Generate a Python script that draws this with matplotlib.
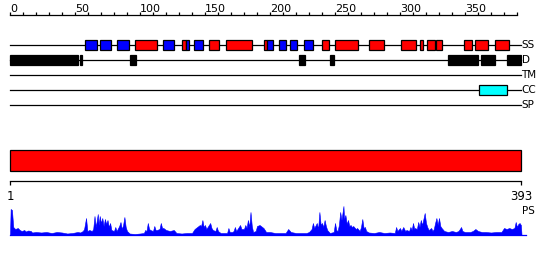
import numpy as np
import matplotlib.pyplot as plt

seq_len = 393

# secondary structure: H = helix (red), E = strand (blue)
ss_start = [58, 69, 82, 96, 118, 132, 135, 141.5, 153, 166, 195, 198, 207, 215, 226,
            240, 250, 276, 301, 315, 321, 328, 349, 358, 373]
ss_end = [67, 78, 91.5, 113, 126, 135, 138, 148.5, 161, 186, 198, 202, 212, 221, 233,
          245, 268, 288, 312, 318, 327, 332, 355, 368, 384]
ss_type = ['E', 'E', 'E', 'H', 'E', 'H', 'E', 'E', 'H', 'H', 'H', 'E', 'E', 'E', 'E',
           'H', 'H', 'H', 'H', 'H', 'H', 'H', 'H', 'H', 'H']

# disorder
dis_start = [0, 53.5, 92, 222, 246, 337, 362, 382]
dis_end = [52, 55.5, 97, 227, 249, 360, 373, 393]

# coiled coil
cc_start = [361]
cc_end = [382]

tracks = ['SS', 'D', 'TM', 'CC', 'SP']

# profile along the sequence (PS)
ps_pos = [0, 0.5, 1.5, 2.5, 4, 6, 7.5, 9, 11, 12, 14, 16, 17, 20, 24, 28, 32, 36, 40, 44, 48, 52, 54,
          56, 57, 58.5, 59.5, 61, 63, 64, 65, 66, 67.5, 68.2, 69, 70, 71, 72, 73, 74, 75, 76, 77, 78,
          80, 81, 82, 84, 85, 86, 87, 88, 89, 90, 92, 96, 100, 103, 104, 105, 106, 107, 108, 110,
          111, 112, 113, 115, 116, 117, 118, 120, 123, 126, 128, 132, 136, 140, 142, 144, 146, 147,
          148, 149, 150, 151, 153, 154, 155, 156, 158, 159, 160, 162, 165, 167, 168, 169, 171, 172,
          173, 174, 176, 177, 178, 180, 181, 182, 183, 184, 185, 186, 187, 189, 190, 192, 194, 195,
          197, 200, 204, 208, 212, 214, 216, 220, 224, 228, 230, 232, 233, 234, 236, 237, 238, 239,
          240, 241, 242, 243, 244, 246, 249, 250, 251, 252, 253, 254, 255, 256.5, 257, 258, 259,
          260, 261, 262, 263, 264, 266, 267, 269, 270, 271, 272, 273, 274, 276, 280, 284, 288, 292,
          296, 297, 298, 300, 301, 302.5, 304, 305, 307, 308, 309, 310, 311, 311.5, 313, 314, 315,
          316, 317, 319, 320, 321, 322, 324, 325, 326, 327, 328, 329, 330, 331, 332, 334, 337, 340,
          343, 345, 347, 348, 350, 354, 356, 358, 360, 363, 366, 370, 374, 378, 380, 382, 384, 386,
          388, 389, 390, 391, 392, 393, 393.5]
ps_val = [0, 26, 25, 8, 6, 7, 5, 4, 5, 3.5, 4.5, 4, 2.5, 3, 2.5, 3, 2, 3, 2.5, 1.5, 2, 3, 2.5,
          4, 6, 17, 4, 5, 4, 6, 19, 8, 21, 10, 19, 12, 17, 9, 16, 11, 15, 8, 12, 5,
          4, 8, 4, 9, 13, 6, 10, 18, 8, 4, 1.5, 1, 1.5, 2, 5, 4, 12, 6, 5, 4,
          9, 5, 5, 6, 12, 7, 7, 5, 4, 5, 2, 1.5, 2, 2, 6, 8, 10, 9,
          15, 8, 10, 6, 10, 12, 7, 5, 4, 8, 4, 2, 2, 2, 7, 3, 3, 4,
          8, 4, 8, 10, 6, 6, 10, 7, 15, 8, 23, 9, 3, 4, 9, 10, 8, 7,
          3, 3, 2, 2, 2, 6, 3, 2, 2, 2, 3, 6, 12, 7, 12, 6, 23, 10,
          12, 8, 15, 9, 5, 2, 3, 12, 5, 4, 10, 23, 15, 29, 16, 20, 11,
          15, 9, 10, 8, 9, 6, 7, 4, 8, 16, 7, 8, 4, 2.5, 2, 3, 2, 2.5,
          2, 8, 4, 7, 4, 8, 4, 5, 4, 8, 5, 12, 6, 7, 6, 13, 8,
          15, 10, 22, 12, 8, 5, 7, 4, 6, 12, 17, 10, 17, 9, 7, 4, 3, 4,
          3, 4, 8, 4, 3, 3, 4, 6, 4, 3, 3, 2.5, 3, 3, 7, 6, 7, 6,
          7, 13, 8, 11, 12, 10, 0]

ss_colors = {'H': '#ff0000', 'E': '#0000ff'}

fig = plt.figure(figsize=(5.5, 2.6), dpi=100)
ax = fig.add_axes([0, 0, 1, 1])
# 1 residue = 1.3 px, residue 0 at 10 px
ax.set_xlim(-10 / 1.3, 540 / 1.3)
ax.set_ylim(260, 0)
ax.axis('off')

lw = 0.9

# top ruler
ticks = np.arange(0, 391, 10)
ax.plot([0, 390], [15, 15], color='black', lw=lw)
ax.vlines(ticks, 12, 15, color='black', lw=lw)
for t in ticks[::5]:
    ax.text(t, 11.5, str(t), fontsize=8, ha='left', va='baseline', color='black')

# feature tracks
track_y = [45, 60, 75, 90, 105]
for name, y in zip(tracks, track_y):
    ax.plot([0, seq_len], [y, y], color='black', lw=lw, zorder=1)
    ax.text(seq_len + 0.5, y, name, fontsize=7.5, ha='left', va='center')

ss_w = np.array(ss_end) - np.array(ss_start)
ax.barh(track_y[0], ss_w, left=ss_start, height=10.5,
        color=[ss_colors[t] for t in ss_type], edgecolor='black', lw=lw, zorder=2)

dis_w = np.array(dis_end) - np.array(dis_start)
ax.barh(track_y[1], dis_w, left=dis_start, height=10.5,
        color='black', edgecolor='black', lw=lw, zorder=2)

cc_w = np.array(cc_end) - np.array(cc_start)
ax.barh(track_y[3], cc_w, left=cc_start, height=10.5,
        color='#00ffff', edgecolor='black', lw=lw, zorder=2)

# full-length red bar
ax.barh(160.5, seq_len, left=0, height=21, color='#ff0000', edgecolor='black', lw=lw)

# lower ruler
ax.plot([0, seq_len], [181, 181], color='black', lw=lw)
ax.vlines([0, seq_len], 181, 185, color='black', lw=lw)
ax.text(0.5, 196, '1', fontsize=8.5, ha='center', va='center')
ax.text(seq_len, 196, str(seq_len), fontsize=8.5, ha='center', va='center')
ax.text(seq_len + 0.5, 211, 'PS', fontsize=7.5, ha='left', va='center')

# profile
base = 235
ps = np.array(ps_val)
ax.fill_between(ps_pos, base, base - ps, color='#0000ff', lw=0.4, edgecolor='#0000ff')
ax.plot([0, 397], [base, base], color='#0000ff', lw=lw)

fig.savefig('out.png', dpi=100)
